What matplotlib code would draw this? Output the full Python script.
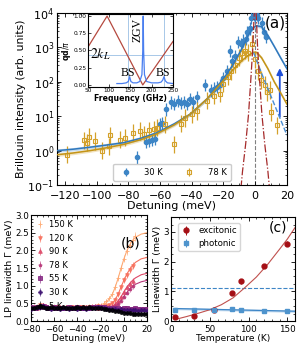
import numpy as np
import matplotlib
matplotlib.use("Agg")
import matplotlib.pyplot as plt
from matplotlib.ticker import MultipleLocator, LogLocator, NullFormatter

# ---------------- (a) Brillouin intensity vs detuning ----------------
det_30K = [-74.6, -69, -67, -65, -63, -60, -58.5, -56, -53, -51, -49, -47, -45, -43,
           -41, -39, -37, -31.5, -28, -26, -24, -22, -20, -18, -16, -14.5, -13, -11,
           -9, -7.5, -6, -5, -3.5, -2.5, -1, 0, 1, 2, 4, 5.5, 7]
log_int_30K = [-0.2, 0.25, 0.28, 0.3, 0.33, 0.78, 0.8, 1.2, 1.4, 1.35, 1.45, 1.38, 1.42,
               1.35, 1.5, 1.4, 1.55, 1.9, 1.75, 1.8, 1.85, 1.9, 2.1, 2.3, 2.9, 2.6, 2.75,
               3.15, 3.1, 3.2, 3.25, 3.45, 3.55, 3.85, 3.95, 3.9, 3.95, 3.85, 3.7, 3.45, 3.3]

det_78K = [-118.7, -108, -106, -105, -101, -96.5, -92, -91.4, -85, -82, -77, -72.5, -70.4,
           -67, -63.7, -62, -56.7, -51.5, -47, -44, -40, -36.8, -30.5, -26, -22, -20, -17,
           -15, -12.6, -10.5, -8.5, -6.5, -4.5, -2, 0, 1.7, 3.6, 6.1, 7.5, 9.3, 9.8, 13.7]
log_int_78K = [-0.12, 0.3, 0.23, 0.4, 0.28, 0.0, 0.13, 0.45, 0.32, 0.37, 0.52, 0.57, 0.47,
               0.59, 0.62, 0.67, 0.76, 0.18, 0.78, 0.95, 1.05, 1.15, 1.45, 1.6, 1.65, 1.95,
               2.15, 2.3, 2.5, 2.7, 2.85, 2.9, 2.85, 3.1, 2.65, 2.3, 2.05, 1.91, 1.7, 1.76,
               1.12, 0.74]
err_30K = 0.18   # decades
err_78K = 0.25

fit_det = [-125, -115, -104, -94, -83, -72, -62, -51, -41, -30, -20, -14, -8, -4, -1, 1,
           4, 8, 12, 16, 20]
fit_log_30K = [0.0, 0.04, 0.1, 0.16, 0.23, 0.36, 0.52, 0.78, 1.06, 1.52, 2.09, 2.5, 3.0,
               3.38, 3.58, 3.63, 3.6, 3.35, 3.03, 2.7, 2.38]
fit_log_78K = [-0.12, -0.07, 0.0, 0.08, 0.18, 0.32, 0.49, 0.75, 1.06, 1.52, 2.04, 2.35,
               2.63, 2.78, 2.86, 2.85, 2.7, 2.38, 2.0, 1.68, 1.35]
dash_det = [-1, 4, 8, 12, 16, 20]
dash_log = [2.85, 2.25, 1.8, 1.35, 0.9, 0.45]
laser_det = [-9, -8, -6, -4.2, -3, -1.5, -0.8, 0, 0.8, 1.5, 3, 4.2, 6, 8, 9]
laser_log = [-1.1, -0.6, 0.2, 1.06, 1.9, 3.0, 3.8, 4.5, 3.8, 3.0, 1.9, 1.06, 0.2, -0.6, -1.1]
arrow_det = 15.5
arrow_int = (8, 300)

# inset: dispersion and spectrum
disp_freq = [50, 95, 179, 250]
disp_qd = [0.55, 1.0, 0.0, 0.63]
spec_freq = [118, 130, 140, 145, 148, 151, 156, 165, 172, 177, 179, 180, 181, 183, 188,
             200, 215, 222, 226, 229, 232, 237, 250]
spec_amp = [0.02, 0.02, 0.03, 0.05, 0.12, 0.05, 0.03, 0.03, 0.05, 0.15, 0.5, 1.0, 0.5,
            0.15, 0.05, 0.03, 0.03, 0.04, 0.07, 0.12, 0.06, 0.03, 0.02]
two_kL = 0.44
bs_freqs = [145, 229]

# ---------------- (b) LP linewidth vs detuning ----------------
det_b = [-80, -77.5, -75, -72.5, -70, -67.5, -65, -62.5, -60, -57.5, -55, -52.5, -50,
         -47.5, -45, -42.5, -40, -37.5, -35, -32.5, -30, -27.5, -25, -22.5, -20, -17.5,
         -15, -12.5, -10, -7.5, -5, -2.5, 0, 2.5, 5, 7.5, 10, 12.5, 15, 17.5, 20]
nan = np.nan
gamma_b = {
    "150 K": [0.36, 0.40, 0.38, 0.42, 0.45, 0.40, 0.37, 0.39, 0.41, 0.36, 0.38, 0.37, 0.40,
              0.38, 0.36, 0.39, 0.41, 0.38, 0.37, 0.40, 0.39, 0.42, 0.41, 0.44, 0.46, 0.50,
              0.56, 0.64, 0.76, 0.96, 1.22, 1.50, 1.76, 1.97, 2.15, 2.30, 2.40, nan, nan,
              nan, nan],
    "120 K": [0.38, 0.36, 0.41, 0.44, 0.42, 0.39, 0.38, 0.36, 0.40, 0.39, 0.37, 0.38, 0.36,
              0.40, 0.39, 0.37, 0.38, 0.40, 0.39, 0.38, 0.41, 0.40, 0.39, 0.42, 0.40, 0.41,
              0.43, 0.44, 0.50, 0.60, 0.76, 0.96, 1.15, 1.31, 1.45, 1.56, nan, nan, nan,
              nan, nan],
    "90 K": [0.40, 0.38, 0.37, 0.43, 0.46, 0.41, 0.38, 0.39, 0.37, 0.38, 0.40, 0.36, 0.39,
             0.37, 0.40, 0.38, 0.36, 0.39, 0.40, 0.37, 0.39, 0.41, 0.40, 0.38, 0.42, 0.40,
             0.39, 0.41, 0.43, 0.47, 0.56, 0.68, 0.82, 0.95, 1.05, 1.13, nan, nan, nan,
             nan, nan],
    "78 K": [0.37, 0.41, 0.39, 0.40, 0.44, 0.43, 0.39, 0.37, 0.38, 0.41, 0.37, 0.39, 0.38,
             0.36, 0.38, 0.40, 0.39, 0.37, 0.38, 0.39, 0.40, 0.38, 0.42, 0.40, 0.41, 0.39,
             0.40, 0.41, 0.40, 0.43, 0.48, 0.57, 0.69, 0.80, 0.90, 0.98, nan, nan, nan,
             nan, nan],
    "55 K": [0.39, 0.37, 0.40, 0.41, 0.43, 0.40, 0.38, 0.37, 0.39, 0.38, 0.36, 0.38, 0.37,
             0.39, 0.37, 0.38, 0.40, 0.38, 0.36, 0.38, 0.37, 0.39, 0.40, 0.41, 0.39, 0.40,
             0.38, 0.37, 0.38, 0.36, 0.37, 0.35, 0.36, 0.37, 0.35, 0.34, 0.36, 0.35, 0.34,
             0.35, 0.35],
    "30 K": [0.35, 0.38, 0.36, 0.39, 0.42, 0.38, 0.36, 0.35, 0.37, 0.36, 0.35, 0.37, 0.36,
             0.35, 0.37, 0.36, 0.35, 0.37, 0.36, 0.35, 0.36, 0.38, 0.37, 0.39, 0.37, 0.36,
             0.35, 0.34, 0.34, 0.33, 0.32, 0.33, 0.31, 0.30, 0.31, 0.30, 0.30, 0.29, 0.30,
             0.30, 0.29],
    "5 K": [0.38, 0.36, 0.40, 0.42, 0.41, 0.38, 0.37, 0.39, 0.36, 0.38, 0.37, 0.39, 0.38,
            0.36, 0.38, 0.37, 0.39, 0.38, 0.40, 0.37, 0.39, 0.38, 0.37, 0.36, 0.37, 0.35,
            0.34, 0.32, 0.31, 0.29, 0.28, 0.26, 0.24, 0.23, 0.22, 0.21, 0.20, 0.20, 0.20,
            0.20, 0.20],
}
markers_b = {"150 K": "+", "120 K": "v", "90 K": "^", "78 K": "*", "55 K": "s",
             "30 K": "P", "5 K": "o"}
cmap_pos_b = {"150 K": 0.82, "120 K": 0.70, "90 K": 0.60, "78 K": 0.50, "55 K": 0.38,
              "30 K": 0.20, "5 K": 0.0}
fit_det_b = [-80, -25, -20, -15, -10, -7.5, -5, -2.5, 0, 2.5, 5, 7.5, 10, 15, 20]
fit_b = {
    "150 K": [0.38, 0.39, 0.42, 0.52, 0.75, 0.95, 1.2, 1.48, 1.75, 1.98, 2.15, 2.28, 2.37, 2.46, 2.5],
    "120 K": [0.38, 0.38, 0.39, 0.42, 0.5, 0.6, 0.75, 0.95, 1.15, 1.32, 1.46, 1.57, 1.66, 1.76, 1.8],
    "90 K": [0.38, 0.38, 0.38, 0.39, 0.42, 0.47, 0.56, 0.68, 0.82, 0.95, 1.06, 1.15, 1.22, 1.31, 1.35],
    "78 K": [0.38, 0.38, 0.38, 0.38, 0.4, 0.43, 0.48, 0.58, 0.7, 0.8, 0.9, 0.98, 1.04, 1.11, 1.15],
    "55 K": [0.38, 0.38, 0.38, 0.37, 0.37, 0.37, 0.36, 0.36, 0.36, 0.36, 0.36, 0.35, 0.35, 0.35, 0.35],
    "30 K": [0.36, 0.36, 0.36, 0.35, 0.34, 0.33, 0.33, 0.32, 0.31, 0.3, 0.3, 0.3, 0.3, 0.3, 0.3],
    "5 K": [0.38, 0.38, 0.37, 0.35, 0.32, 0.3, 0.28, 0.26, 0.24, 0.22, 0.21, 0.2, 0.2, 0.2, 0.2],
}

# ---------------- (c) linewidth vs temperature ----------------
temp = [5, 30, 55, 78, 90, 120, 150]
gamma_exc = [0.13, 0.18, 0.36, 0.93, 1.34, 1.85, 2.61]
gamma_exc_err = [0.05, 0.04, 0.05, 0.06, 0.08, 0.06, 0.07]
gamma_phot = [0.38, 0.38, 0.37, 0.41, 0.37, 0.34, 0.34]
fit_temp_exc = [5, 20, 35, 50, 65, 80, 95, 110, 125, 140, 150, 160]
fit_gamma_exc = [0.05, 0.15, 0.26, 0.38, 0.55, 0.78, 1.12, 1.48, 1.92, 2.42, 2.76, 3.15]
fit_temp_phot = [5, 160]
fit_gamma_phot = [0.42, 0.33]
gamma_threshold = 1.1

c30 = "#3d85c6"
c78 = "#d4a12a"

fig = plt.figure(figsize=(2.99, 3.43), dpi=100)


def style(ax, fs, xpad=2, ypad=2):
    ax.tick_params(which="both", direction="in", top=True, right=True, labelsize=fs)
    ax.tick_params(axis="x", pad=xpad)
    ax.tick_params(axis="y", pad=ypad)
    ax.tick_params(which="major", length=3, width=0.6)
    ax.tick_params(which="minor", length=1.6, width=0.5)
    for s in ax.spines.values():
        s.set_linewidth(0.8)


# --- (a) ---
ax = fig.add_axes([0.1906, 0.4606, 0.769, 0.5015])
y30 = 10 ** np.array(log_int_30K)
y78 = 10 ** np.array(log_int_78K)
ax.errorbar(det_30K, y30, yerr=[y30 - y30 / 10 ** err_30K, y30 * 10 ** err_30K - y30],
            fmt="o", ms=3.0, color=c30, ecolor=c30, elinewidth=0.9, label="30 K", zorder=3)
ax.errorbar(det_78K, y78, yerr=[y78 - y78 / 10 ** err_78K, y78 * 10 ** err_78K - y78],
            fmt="s", ms=3.0, mfc="none", mew=0.8, color=c78, ecolor=c78, elinewidth=0.9,
            label="78 K", zorder=3)
f30 = 10 ** np.array(fit_log_30K)
f78 = 10 ** np.array(fit_log_78K)
ax.fill_between(fit_det, f30 / 1.12, f30 * 1.12, color=c30, alpha=0.3, lw=0, zorder=2)
ax.fill_between(fit_det, f78 / 1.12, f78 * 1.12, color=c78, alpha=0.3, lw=0, zorder=2)
ax.plot(fit_det, f30, color="#2f78bd", lw=1.1, zorder=4)
ax.plot(fit_det, f78, color="#c39418", lw=1.1, zorder=4)
ax.plot(dash_det, 10 ** np.array(dash_log), color="#4a8ed3", lw=1.0, ls="--", zorder=4)
ax.plot(laser_det, 10 ** np.array(laser_log), color="#a52a2a", lw=0.9, ls="-.", zorder=4)
ax.axvline(0, color="gray", lw=0.8, ls="--", zorder=1)
ax.annotate("", xy=(arrow_det, arrow_int[1]), xytext=(arrow_det, arrow_int[0]),
            arrowprops=dict(arrowstyle="-|>", color="#1f4fd8", lw=1.3, mutation_scale=9))
ax.set_yscale("log")
ax.set_xlim(-125, 20)
ax.set_ylim(1e-1, 1e4)
ax.xaxis.set_major_locator(MultipleLocator(20))
ax.xaxis.set_minor_locator(MultipleLocator(5))
ax.yaxis.set_minor_locator(LogLocator(base=10, subs=np.arange(2, 10)))
ax.yaxis.set_minor_formatter(NullFormatter())
style(ax, 8, xpad=4.5, ypad=2)
ax.set_xlabel("Detuning (meV)", fontsize=8, labelpad=0)
ax.set_ylabel("Brillouin intensity (arb. units)", fontsize=7.8, labelpad=1)
ax.text(0.948, 0.94, "(a)", transform=ax.transAxes, fontsize=11, ha="center", va="center")
ax.legend(loc="lower center", bbox_to_anchor=(0.5, 0.0), ncol=2, fontsize=6,
          columnspacing=2.2, handletextpad=1.2, borderpad=0.5, framealpha=1)

# --- inset ---
ins = fig.add_axes([0.2943, 0.7464, 0.284, 0.2128])
ins.axhline(two_kL, color="#a8c8e8", lw=0.7)
for f in bs_freqs:
    ins.axvline(f, color="#a8c8e8", lw=0.7)
ins.plot(disp_freq, disp_qd, color="#b5493f", lw=0.9)
ins.plot(spec_freq, spec_amp, color="#4a7ff0", lw=0.9)
ins.set_xlim(50, 250)
ins.set_ylim(-0.03, 1.03)
ins.xaxis.set_major_locator(MultipleLocator(50))
ins.yaxis.set_major_locator(MultipleLocator(0.25))
ins.yaxis.set_major_formatter(plt.FormatStrFormatter("%.2f"))
ins.tick_params(which="both", direction="in", top=True, right=True, labelsize=4.2,
                length=2, width=0.5, pad=1)
ins.set_xlabel("Frequency (GHz)", fontsize=5.6, fontweight="bold", labelpad=0.5)
ins.set_ylabel(r"$\mathbf{qd}/\pi$", fontsize=5.6, labelpad=0.5)
ins.text(78, 0.45, r"$2k_L$", fontsize=10, math_fontfamily="stix", ha="center", va="center")
ins.text(166, 0.8, "ZGV", fontsize=8.5, family="Liberation Serif", rotation=90,
         ha="center", va="center")
ins.text(143, 0.17, "BS", fontsize=8.5, family="Liberation Serif", ha="center", va="center")
ins.text(226, 0.17, "BS", fontsize=8.5, family="Liberation Serif", ha="center", va="center")

# --- (b) ---
axb = fig.add_axes([0.1037, 0.0641, 0.388, 0.309])
for lab, vals in gamma_b.items():
    col = plt.cm.magma(cmap_pos_b[lab])
    axb.plot(fit_det_b, fit_b[lab], color=col, lw=0.8, zorder=2)
for lab, vals in gamma_b.items():
    col = plt.cm.magma(cmap_pos_b[lab])
    v = np.array(vals, dtype=float)
    axb.errorbar(det_b, v, yerr=0.05 + 0.03 * v, fmt=markers_b[lab], ms=2.6, mew=0.7,
                 color=col, ecolor=col, elinewidth=0.5, alpha=0.85, label=lab, zorder=3)
axb.set_xlim(-80, 20)
axb.set_ylim(0, 3)
axb.xaxis.set_major_locator(MultipleLocator(20))
axb.xaxis.set_minor_locator(MultipleLocator(5))
axb.yaxis.set_major_locator(MultipleLocator(0.5))
axb.yaxis.set_minor_locator(MultipleLocator(0.1))
style(axb, 6.3, xpad=3.2, ypad=1.5)
axb.set_xlabel("Detuning (meV)", fontsize=6.6, labelpad=0)
axb.set_ylabel("LP linewidth Γ (meV)", fontsize=6.8, labelpad=1)
axb.text(0.86, 0.73, "(b)", transform=axb.transAxes, fontsize=10, ha="center", va="center")
axb.legend(loc="upper left", fontsize=6, frameon=False, handlelength=1.0,
           handletextpad=0.6, labelspacing=0.55, borderaxespad=0.2)

# --- (c) ---
axc = fig.add_axes([0.572, 0.0641, 0.415, 0.303])
axc.axhline(gamma_threshold, color="#3d85c6", lw=0.8, ls="--")
axc.plot(fit_temp_exc, fit_gamma_exc, color="#c0504d", lw=0.8)
fp = np.array(fit_gamma_phot)
axc.fill_between(fit_temp_phot, fp - 0.04, fp + 0.04, color="#5b9bd5", alpha=0.35, lw=0)
axc.plot(fit_temp_phot, fp, color="#3d85c6", lw=0.9)
axc.errorbar(temp, gamma_exc, yerr=gamma_exc_err, fmt="o", ms=3.5, color="#a50f15",
             elinewidth=0.7, label="excitonic", zorder=3)
axc.errorbar(temp, gamma_phot, yerr=0.03, fmt="s", ms=3.5, color="#4f94cd",
             elinewidth=0.7, label="photonic", zorder=3)
axc.set_xlim(0, 160)
axc.set_ylim(0, 3.5)
axc.xaxis.set_major_locator(MultipleLocator(50))
axc.xaxis.set_minor_locator(MultipleLocator(10))
axc.yaxis.set_major_locator(MultipleLocator(1))
axc.yaxis.set_minor_locator(MultipleLocator(0.25))
style(axc, 6.3, xpad=3.2, ypad=1.5)
axc.set_xlabel("Temperature (K)", fontsize=6.6, labelpad=0)
axc.set_ylabel("Linewidth Γ (meV)", fontsize=6.8, labelpad=1)
axc.text(0.86, 0.9, "(c)", transform=axc.transAxes, fontsize=10, ha="center", va="center")
axc.legend(loc="upper left", fontsize=6.2, handletextpad=0.8, handlelength=1.2,
           borderpad=0.35, labelspacing=0.4, bbox_to_anchor=(0.02, 0.98))

fig.savefig("out.png", dpi=100)
